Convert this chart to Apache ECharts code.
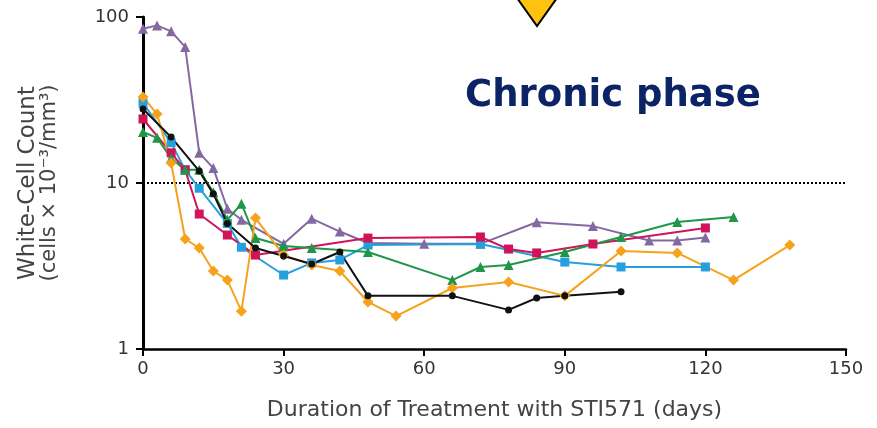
<!DOCTYPE html>
<html><head><meta charset="utf-8">
<script src="https://cdn.jsdelivr.net/npm/echarts@6/dist/echarts.min.js"></script>
<style>html,body{margin:0;padding:0;background:#fff}#c{width:877px;height:428px}</style>
</head><body><div id="c"></div>
<script>
// Data (days, white-cell count x10^-3/mm3)
const xTicks = [0, 30, 60, 90, 120, 150];
const yTicks = [1, 10, 100];
const purpleDays = [0,3,6,9,12,15,18,21,30,36,42,48,60,72,84,96,108,114,120];
const purpleWBC  = [85,89,82,66,15.2,12.3,7.0,6.0,4.3,6.1,5.1,4.35,4.3,4.3,5.8,5.5,4.5,4.5,4.7];
const blackDays = [0,6,12,15,18,24,30,36,42,48,66,78,84,90,102];
const blackWBC  = [27.9,18.9,11.8,8.6,5.7,4.06,3.63,3.25,3.84,2.09,2.09,1.72,2.03,2.09,2.21];
const blueDays = [0,6,9,12,18,21,30,36,42,48,72,90,102,120];
const blueWBC  = [30.3,17.5,12.0,9.3,5.7,4.1,2.79,3.3,3.44,4.23,4.29,3.34,3.12,3.12];
const redDays = [0,6,9,12,18,24,48,72,78,84,96,120];
const redWBC  = [24.3,15.2,12.0,6.5,4.86,3.68,4.66,4.73,4.0,3.79,4.29,5.36];
const greenDays = [0,3,6,9,12,15,18,21,24,30,36,48,66,72,78,90,102,114,126];
const greenWBC  = [20.3,18.7,14.1,12.0,12.0,8.8,6.0,7.5,4.66,4.17,4.06,3.84,2.6,3.12,3.21,3.84,4.73,5.82,6.24];
const orangeDays = [0,3,6,9,12,15,18,21,24,30,36,42,48,54,66,78,90,102,114,126,138];
const orangeWBC  = [33,26,13.2,4.6,4.06,2.95,2.6,1.69,6.15,3.68,3.21,2.95,1.92,1.58,2.33,2.53,2.09,3.89,3.79,2.6,4.23];
const thresholdWBC = 10;

const zip = (a, b) => a.map((d, i) => [d, b[i]]);
function mk(name, days, vals, color, symbol, size) {
  return {
    name, type: 'line', data: zip(days, vals), symbol, symbolSize: size,
    lineStyle: { color, width: 2 }, itemStyle: { color }, z: 3, animation: false
  };
}
const chart = echarts.init(document.getElementById('c'));
const FONT = 'DejaVu Sans';
chart.setOption({
  animation: false,
  grid: { left: 143, right: 31, top: 17, bottom: 79 },
  xAxis: {
    type: 'value', min: 0, max: 150, interval: 30,
    axisLine: { lineStyle: { color: '#000', width: 2.5 } },
    axisTick: { length: 7, lineStyle: { color: '#000', width: 2 } },
    axisLabel: { margin: 11, fontSize: 18, color: '#333', fontFamily: FONT },
    splitLine: { show: false },
    name: 'Duration of Treatment with STI571 (days)', nameLocation: 'middle', nameGap: 50,
    nameTextStyle: { fontSize: 22, color: '#444', fontFamily: FONT }
  },
  yAxis: {
    type: 'log', logBase: 10, min: 1, max: 100,
    axisLine: { lineStyle: { color: '#000', width: 3 } },
    axisTick: { length: 7, lineStyle: { color: '#000', width: 2 } },
    minorTick: { show: false },
    axisLabel: { margin: 14, fontSize: 18, color: '#333', fontFamily: FONT },
    splitLine: { show: false },
    name: '{a|White-Cell Count}\n{b|(cells × 10⁻³/mm³)}', nameLocation: 'middle', nameRotate: 90, nameGap: 82,
    nameTextStyle: { color: '#444', fontFamily: FONT, rich: {
      a: { fontSize: 23, lineHeight: 22, color: '#444', fontFamily: FONT },
      b: { fontSize: 21, lineHeight: 22, color: '#444', fontFamily: FONT } } }
  },
  series: [
    { type: 'line', data: [[0, thresholdWBC], [150, thresholdWBC]], symbol: 'none',
      lineStyle: { color: '#000', width: 2, type: [2, 2] }, z: 1, silent: true },
    mk('purple', purpleDays, purpleWBC, '#8468a2', 'triangle', 10),
    mk('blue', blueDays, blueWBC, '#25a0dc', 'rect', 9),
    mk('red', redDays, redWBC, '#d0145a', 'rect', 9),
    mk('green', greenDays, greenWBC, '#1f9648', 'triangle', 10),
    mk('orange', orangeDays, orangeWBC, '#f6a21d', 'diamond', 11),
    mk('black', blackDays, blackWBC, '#111', 'circle', 7)
  ],
  graphic: [
    { type: 'polygon', shape: { points: [[517, -2], [557, -2], [537, 26]] },
      style: { fill: '#fec20f', stroke: '#000', lineWidth: 2 }, z: 10 },
    { type: 'text', left: 465, top: 78, style: { text: 'Chronic phase', fontSize: 37, fontWeight: 'bold',
      fontFamily: FONT, fill: '#0c2466' }, z: 10 }
  ]
});
</script></body></html>
